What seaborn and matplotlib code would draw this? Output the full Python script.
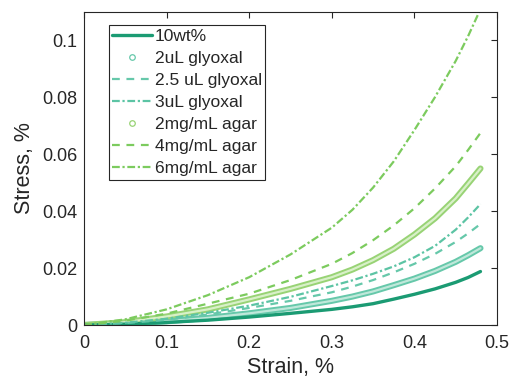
import pandas as pd
import matplotlib
matplotlib.use("Agg")
import matplotlib.pyplot as plt
import seaborn as sns
from matplotlib.lines import Line2D

# strain readings (x) shared by every series
strain = [0, 0.05, 0.1, 0.15, 0.2, 0.25, 0.3, 0.325, 0.35, 0.375, 0.4, 0.425, 0.45, 0.465, 0.48]

# stress readings for each sample
wt10 = [0, 0.0003, 0.0009, 0.0017, 0.0028, 0.0041, 0.0055, 0.0064, 0.0075, 0.0091, 0.0108, 0.0127, 0.0150, 0.0167, 0.0188]
glyox_2 = [0, 0.0005, 0.0013, 0.0025, 0.0041, 0.006, 0.0085, 0.0100, 0.0118, 0.0140, 0.0163, 0.0190, 0.0222, 0.0245, 0.0270]
glyox_25 = [0, 0.0007, 0.0018, 0.0037, 0.006, 0.0085, 0.0115, 0.0135, 0.0158, 0.0185, 0.0215, 0.0250, 0.0292, 0.0322, 0.0355]
glyox_3 = [0, 0.0008, 0.0022, 0.0043, 0.0068, 0.0099, 0.0137, 0.0157, 0.018, 0.0206, 0.0238, 0.0278, 0.0335, 0.0378, 0.0425]
agar_2 = [0, 0.001, 0.003, 0.0055, 0.009, 0.0127, 0.0168, 0.0195, 0.0228, 0.0268, 0.0318, 0.0375, 0.0445, 0.0497, 0.055]
agar_4 = [0, 0.0015, 0.004, 0.0075, 0.011, 0.0158, 0.0215, 0.0253, 0.0298, 0.035, 0.041, 0.048, 0.0558, 0.0615, 0.0675]
agar_6 = [0, 0.002, 0.0055, 0.0105, 0.0168, 0.0248, 0.0342, 0.0405, 0.0483, 0.0575, 0.0685, 0.0801, 0.0928, 0.1015, 0.111]

labels = ["10wt%", "2uL glyoxal", "2.5 uL glyoxal", "3uL glyoxal",
          "2mg/mL agar", "4mg/mL agar", "6mg/mL agar"]

c_dark = "#1b9b73"
c_teal = "#66c8aa"
c_teal2 = "#5cc4a4"
c_green = "#7ccb5e"
c_green2 = "#98d375"

sns.set_style("white")
plt.rcParams["font.family"] = ["Liberation Sans", "DejaVu Sans"]

fig = plt.figure(figsize=(5.1, 3.83), dpi=100)
ax = fig.add_axes([0.1647, 0.1514, 0.8098, 0.8173])

dash = (3.5, 3)
dashdot = (3.5, 1.2, 1, 1.2)

# circle series drawn as a hollow tube (dense ring markers in the original)
sns.lineplot(x=strain, y=glyox_2, ax=ax, color=c_teal, lw=4.4)
sns.lineplot(x=strain, y=glyox_2, ax=ax, color="#bfe8da", lw=1.6)
sns.lineplot(x=strain, y=agar_2, ax=ax, color=c_green2, lw=4.4)
sns.lineplot(x=strain, y=agar_2, ax=ax, color="#d8f0c8", lw=1.6)

sns.lineplot(x=strain, y=wt10, ax=ax, color=c_dark, lw=2.4)
l = sns.lineplot(x=strain, y=glyox_25, ax=ax, color=c_teal, lw=1.6).lines[-1]
l.set_dashes(dash)
l = sns.lineplot(x=strain, y=glyox_3, ax=ax, color=c_teal2, lw=1.6).lines[-1]
l.set_dashes(dashdot)
l = sns.lineplot(x=strain, y=agar_4, ax=ax, color=c_green, lw=1.6).lines[-1]
l.set_dashes(dash)
l = sns.lineplot(x=strain, y=agar_6, ax=ax, color=c_green, lw=1.6).lines[-1]
l.set_dashes(dashdot)

ax.set_xlim(0, 0.5)
ax.set_ylim(0, 0.11)
ax.set_xticks([0, 0.1, 0.2, 0.3, 0.4, 0.5])
ax.set_xticklabels(["0", "0.1", "0.2", "0.3", "0.4", "0.5"])
ax.set_yticks([0, 0.02, 0.04, 0.06, 0.08, 0.1])
ax.set_yticklabels(["0", "0.02", "0.04", "0.06", "0.08", "0.1"])
ax.tick_params(direction="in", length=4, width=0.8, top=True, right=True,
               labelsize=13, colors="#262626")
ax.tick_params(axis="x", pad=7)
ax.tick_params(axis="y", pad=5)
for s in ax.spines.values():
    s.set_color("#262626")
    s.set_linewidth(0.8)
ax.set_xlabel("Strain, %", fontsize=15.5, color="#262626", labelpad=4)
ax.set_ylabel("Stress, %", fontsize=15.5, color="#262626", labelpad=5)

handles = [
    Line2D([], [], color=c_dark, lw=2.4),
    Line2D([], [], color=c_teal, ls="none", marker="o", ms=4, mfc="none", mew=0.9),
    Line2D([], [], color=c_teal, lw=1.6, dashes=dash),
    Line2D([], [], color=c_teal2, lw=1.6, dashes=dashdot),
    Line2D([], [], color=c_green2, ls="none", marker="o", ms=4, mfc="none", mew=0.9),
    Line2D([], [], color=c_green, lw=1.6, dashes=dash),
    Line2D([], [], color=c_green, lw=1.6, dashes=dashdot),
]
leg = ax.legend(handles, labels, loc="upper left", bbox_to_anchor=(0.06, 0.958),
                borderaxespad=0, fontsize=12.5, handlelength=2.3, handletextpad=0.15,
                labelspacing=0.4, borderpad=0.2, fancybox=False, framealpha=1)
leg.get_frame().set_edgecolor("#262626")
leg.get_frame().set_linewidth(0.8)

plt.savefig("out.png", dpi=100)
